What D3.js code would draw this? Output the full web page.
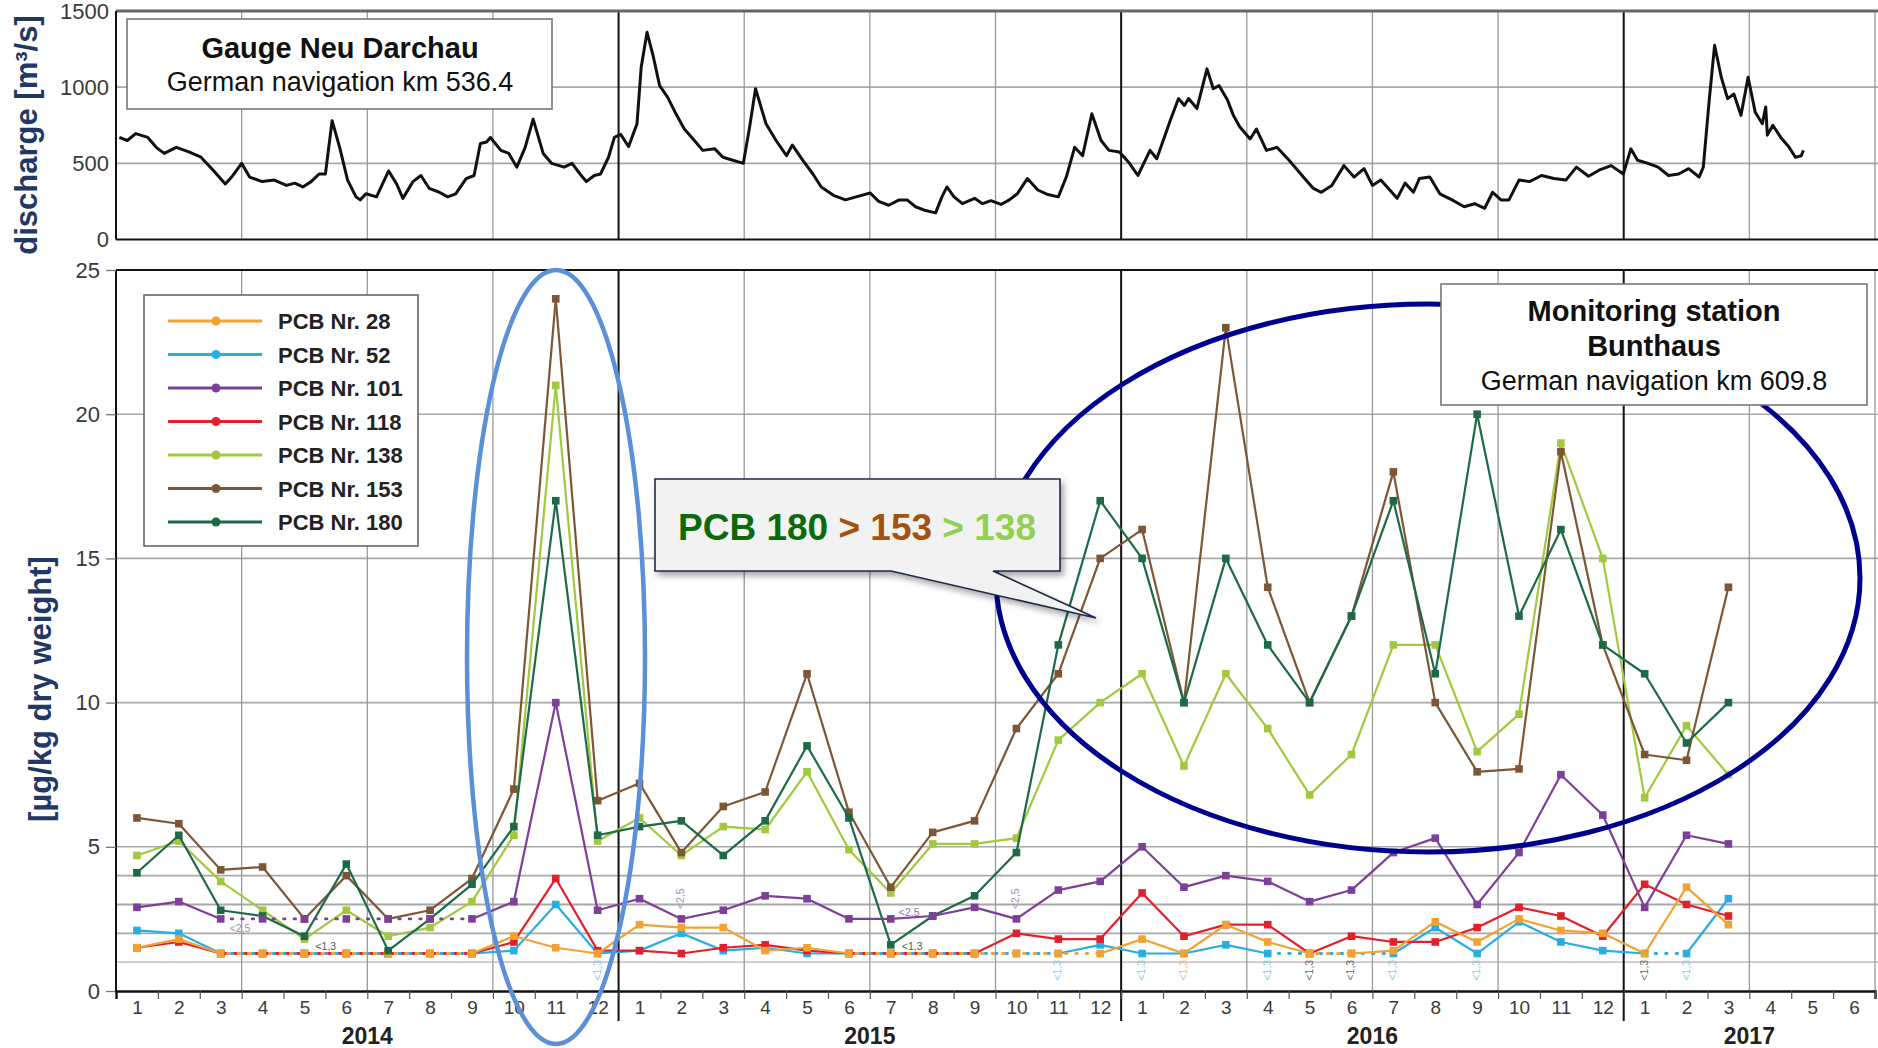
<!DOCTYPE html>
<html>
<head>
<meta charset="utf-8">
<script src="https://cdn.jsdelivr.net/npm/d3@7"></script>
<style>
  body { margin: 0; background: #fff; }
  svg { display: block; }
  text { font-family: "Liberation Sans", Arial, Helvetica, sans-serif; }
</style>
</head>
<body>
<svg id="chart" width="1878" height="1048"></svg>
<script>
// ---------------- data ----------------
// Discharge at gauge Neu Darchau: time in months since 1 Jan 2014, discharge in m³/s
const dischargeT = [0.08,0.27,0.47,0.76,0.96,1.15,1.44,1.74,2.03,2.32,2.61,2.76,3.0,3.19,3.49,3.78,4.07,4.27,4.46,4.66,4.85,5.0,5.16,5.34,5.53,5.73,5.83,5.97,6.22,6.51,6.7,6.85,7.09,7.28,7.48,7.72,7.92,8.11,8.36,8.55,8.7,8.85,8.94,9.19,9.38,9.57,9.77,9.96,10.2,10.4,10.7,10.89,11.08,11.23,11.42,11.57,11.76,11.9,12.05,12.24,12.44,12.54,12.68,12.83,12.98,13.17,13.37,13.57,13.81,14.01,14.3,14.49,14.73,14.98,15.13,15.27,15.52,15.76,16.01,16.15,16.4,16.64,16.84,17.13,17.42,17.67,18.01,18.21,18.45,18.7,18.89,19.09,19.33,19.57,19.72,19.84,20.01,20.21,20.5,20.69,20.89,21.13,21.33,21.52,21.76,22.01,22.25,22.5,22.69,22.89,23.08,23.3,23.52,23.71,23.96,24.2,24.4,24.54,24.69,24.85,25.03,25.17,25.37,25.51,25.61,25.81,26.05,26.2,26.34,26.54,26.68,26.83,27.08,27.23,27.47,27.72,28.01,28.35,28.59,28.78,29.03,29.32,29.56,29.8,30.0,30.2,30.59,30.78,30.98,31.12,31.37,31.61,31.9,32.19,32.44,32.68,32.87,33.07,33.26,33.5,33.75,34.04,34.33,34.62,34.87,35.16,35.41,35.7,35.99,36.17,36.33,36.58,36.82,37.07,37.31,37.55,37.8,37.9,38.04,38.17,38.33,38.48,38.63,38.8,38.97,39.14,39.31,39.39,39.43,39.56,39.75,39.95,40.1,40.24,40.29];
const dischargeQ = [670,650,695,670,605,565,605,575,540,455,365,410,500,410,380,390,355,370,345,380,430,430,780,605,390,280,260,300,280,450,365,270,380,420,335,310,280,300,400,420,630,640,670,585,565,475,605,790,565,500,475,500,430,380,420,430,540,670,690,610,760,1130,1360,1200,1010,935,825,725,650,585,595,540,520,500,740,990,760,650,550,620,520,430,345,290,260,280,305,250,225,260,260,215,190,175,280,345,280,235,270,235,255,230,260,300,400,325,295,280,410,605,550,825,650,585,575,500,420,500,585,530,670,780,925,880,925,860,1120,990,1010,915,815,740,660,725,585,605,520,410,335,310,355,485,410,465,355,390,270,370,310,400,410,300,260,215,235,205,310,260,260,390,380,420,400,390,475,415,455,485,430,595,520,500,475,420,430,465,410,475,910,1275,1065,925,955,815,1065,835,760,870,685,750,670,605,540,550,585];

// Monthly sediment samples at Bunthaus, Jan 2014 – Mar 2017 (µg/kg dry weight)
const pcb28  = [1.5,1.8,1.3,1.3,1.3,1.3,1.3,1.3,1.3,1.9,1.5,1.3, 2.3,2.2,2.2,1.4,1.5,1.3,1.3,1.3,1.3,1.3,1.3,1.3, 1.8,1.3,2.3,1.7,1.3,1.3,1.4,2.4,1.7,2.5,2.1,2.0, 1.3,3.6,2.3];
const pcb52  = [2.1,2.0,1.3,1.3,1.3,1.3,1.3,1.3,1.3,1.4,3.0,1.3, 1.4,2.0,1.4,1.5,1.3,1.3,1.3,1.3,1.3,1.3,1.3,1.6, 1.3,1.3,1.6,1.3,1.3,1.3,1.3,2.2,1.3,2.4,1.7,1.4, 1.3,1.3,3.2];
const pcb101 = [2.9,3.1,2.5,2.5,2.5,2.5,2.5,2.5,2.5,3.1,10.0,2.8, 3.2,2.5,2.8,3.3,3.2,2.5,2.5,2.6,2.9,2.5,3.5,3.8, 5.0,3.6,4.0,3.8,3.1,3.5,4.8,5.3,3.0,4.8,7.5,6.1, 2.9,5.4,5.1];
const pcb118 = [1.5,1.7,1.3,1.3,1.3,1.3,1.3,1.3,1.3,1.7,3.9,1.4, 1.4,1.3,1.5,1.6,1.4,1.3,1.3,1.3,1.3,2.0,1.8,1.8, 3.4,1.9,2.3,2.3,1.3,1.9,1.7,1.7,2.2,2.9,2.6,1.9, 3.7,3.0,2.6];
const pcb138 = [4.7,5.2,3.8,2.8,1.8,2.8,1.9,2.2,3.1,5.4,21.0,5.2, 6.0,4.7,5.7,5.6,7.6,4.9,3.4,5.1,5.1,5.3,8.7,10.0, 11.0,7.8,11.0,9.1,6.8,8.2,12.0,12.0,8.3,9.6,19.0,15.0, 6.7,9.2,7.5];
const pcb153 = [6.0,5.8,4.2,4.3,2.5,4.0,2.5,2.8,3.9,7.0,24.0,6.6, 7.2,4.8,6.4,6.9,11.0,6.2,3.6,5.5,5.9,9.1,11.0,15.0, 16.0,10.0,23.0,14.0,10.0,13.0,18.0,10.0,7.6,7.7,18.7,12.0, 8.2,8.0,14.0];
const pcb180 = [4.1,5.4,2.8,2.6,1.9,4.4,1.4,2.5,3.7,5.7,17.0,5.4, 5.7,5.9,4.7,5.9,8.5,6.0,1.6,2.6,3.3,4.8,12.0,17.0, 15.0,10.0,15.0,12.0,10.0,13.0,17.0,11.0,20.0,13.0,16.0,12.0, 11.0,8.6,10.0];

// Sample indices below the limit of quantification (plotted at the limit)
const loq28  = [2,3,4,5,6,7,8, 17,18,19,20,21,22,23, 25,28,29, 36];
const loq52  = [2,3,4,5,6,7,8,11, 17,18,19,20,21,22, 24,27,28,29,30,32, 36,37];
const loq101 = [2,3,4,5,6,7,8, 13,18,21];
const loq118 = [2,3,4,5,6,7,8, 17,18,19,20];

// Limit notes written next to the samples
const limitNotes = [
  { i: 2,  text: "<2,5", kind: "right-low", color: "#a98bc0" },
  { i: 4,  text: "<1,3", kind: "right-up",  color: "#5a5a5a" },
  { i: 13, text: "<2,5", kind: "above",     color: "#a98bc0" },
  { i: 18, text: "<2,5", kind: "right-mid", color: "#8a74a0" },
  { i: 18, text: "<1,3", kind: "right-up",  color: "#3b6b45" },
  { i: 21, text: "<2,5", kind: "above",     color: "#a98bc0" },
  { i: 11, text: "<1,3", kind: "below",     color: "#7fcbe6" },
  { i: 22, text: "<1,3", kind: "below",     color: "#7fcbe6" },
  { i: 24, text: "<1,3", kind: "below",     color: "#7fcbe6" },
  { i: 25, text: "<1,3", kind: "below",     color: "#f0b878" },
  { i: 27, text: "<1,3", kind: "below",     color: "#7fcbe6" },
  { i: 28, text: "<1,3", kind: "below",     color: "#6a6a6a" },
  { i: 29, text: "<1,3", kind: "below",     color: "#6a6a6a" },
  { i: 30, text: "<1,3", kind: "below",     color: "#7fcbe6" },
  { i: 32, text: "<1,3", kind: "below",     color: "#7fcbe6" },
  { i: 36, text: "<1,3", kind: "below",     color: "#6a6a6a" },
  { i: 37, text: "<1,3", kind: "below",     color: "#7fcbe6" }
];

const seriesNames  = ["PCB Nr. 28","PCB Nr. 52","PCB Nr. 101","PCB Nr. 118","PCB Nr. 138","PCB Nr. 153","PCB Nr. 180"];
const seriesColors = ["#f2a233","#2aaee2","#7e3f98","#e2202c","#a2c83e","#7d5636","#1d6a48"];
const seriesValues = [pcb28, pcb52, pcb101, pcb118, pcb138, pcb153, pcb180];
const seriesLoq    = [loq28, loq52, loq101, loq118, [], [], []];
const drawOrder    = [1, 3, 0, 4, 5, 6, 2];

const years      = ["2014", "2015", "2016", "2017"];
const yearStart  = [0, 12, 24, 36];
const yearEnd    = [12, 24, 36, 42];
const dischargeTicks = [0, 500, 1000, 1500];
const concTicks      = [0, 5, 10, 15, 20, 25];
const concGrid       = [1, 2, 3, 4, 5, 10, 15, 20];

// ---------------- layout ----------------
const svg = d3.select("#chart");
const left = 116, right = 1875;
const x  = d3.scaleLinear().domain([0, 42]).range([left, right]);
const yQ = d3.scaleLinear().domain([0, 1500]).range([239.5, 11]);
const yC = d3.scaleLinear().domain([0, 25]).range([991, 270]);

const monthBounds = d3.range(0, 43);
const quarterLines = monthBounds.filter(m => m % 3 === 0 && m % 12 !== 0 && m > 0);
const yearLines = [12, 24, 36];

const defs = svg.append("defs");
const shadow = defs.append("filter").attr("id", "shadow")
  .attr("x", "-10%").attr("y", "-20%").attr("width", "130%").attr("height", "160%");
shadow.append("feDropShadow").attr("dx", 3).attr("dy", 4).attr("stdDeviation", 3)
  .attr("flood-color", "#000").attr("flood-opacity", 0.35);

// ---------------- discharge panel ----------------
const gTop = svg.append("g");
gTop.selectAll(".hq").data([500, 1000]).join("line")
  .attr("x1", left).attr("x2", 1878).attr("y1", d => yQ(d)).attr("y2", d => yQ(d))
  .attr("stroke", "#a8a8a8").attr("stroke-width", 1.6);
gTop.selectAll(".vq").data(quarterLines).join("line")
  .attr("x1", d => x(d)).attr("x2", d => x(d)).attr("y1", yQ(1500)).attr("y2", yQ(0))
  .attr("stroke", "#9a9a9a").attr("stroke-width", 1.3);
gTop.selectAll(".vy").data(yearLines).join("line")
  .attr("x1", d => x(d)).attr("x2", d => x(d)).attr("y1", yQ(1500)).attr("y2", yQ(0))
  .attr("stroke", "#111").attr("stroke-width", 2);
gTop.append("line").attr("x1", left).attr("x2", 1878).attr("y1", yQ(1500)).attr("y2", yQ(1500))
  .attr("stroke", "#666").attr("stroke-width", 3);
gTop.append("line").attr("x1", left).attr("x2", 1878).attr("y1", yQ(0)).attr("y2", yQ(0))
  .attr("stroke", "#111").attr("stroke-width", 2);
gTop.append("line").attr("x1", left).attr("x2", left).attr("y1", yQ(1500)).attr("y2", yQ(0))
  .attr("stroke", "#111").attr("stroke-width", 2);

const axQ = gTop.append("g").attr("transform", `translate(${left},0)`)
  .call(d3.axisLeft(yQ).tickValues(dischargeTicks).tickSize(0).tickPadding(7).tickFormat(d3.format("d")));
axQ.select(".domain").remove();
axQ.selectAll("text").attr("font-size", 22).attr("fill", "#3a3a3a")
  .attr("font-family", "'Liberation Sans', Arial, sans-serif");

const dischargePts = dischargeT.map((t, i) => [t, dischargeQ[i]]);
gTop.append("path").datum(dischargePts)
  .attr("d", d3.line().x(d => x(d[0])).y(d => yQ(d[1])))
  .attr("fill", "none").attr("stroke", "#111").attr("stroke-width", 3)
  .attr("stroke-linejoin", "round");

// ---------------- concentration panel ----------------
const gBot = svg.append("g");
gBot.selectAll(".hc").data(concGrid).join("line")
  .attr("x1", left).attr("x2", 1878).attr("y1", d => yC(d)).attr("y2", d => yC(d))
  .attr("stroke", d => d === 1 ? "#d2c4c8" : "#a8a8a8").attr("stroke-width", d => d < 5 ? 1.8 : 1.6);
gBot.selectAll(".vc").data(quarterLines).join("line")
  .attr("x1", d => x(d)).attr("x2", d => x(d)).attr("y1", yC(25)).attr("y2", yC(0))
  .attr("stroke", "#9a9a9a").attr("stroke-width", 1.3);
gBot.selectAll(".vcy").data(yearLines).join("line")
  .attr("x1", d => x(d)).attr("x2", d => x(d)).attr("y1", yC(25)).attr("y2", yC(0) + 30)
  .attr("stroke", "#111").attr("stroke-width", 2);
gBot.append("line").attr("x1", left).attr("x2", 1878).attr("y1", yC(25)).attr("y2", yC(25))
  .attr("stroke", "#111").attr("stroke-width", 2);
gBot.append("line").attr("x1", left).attr("x2", left).attr("y1", yC(25)).attr("y2", yC(0))
  .attr("stroke", "#111").attr("stroke-width", 2);

const axC = gBot.append("g").attr("transform", `translate(${left},0)`)
  .call(d3.axisLeft(yC).tickValues(concTicks).tickSize(10).tickPadding(6));
axC.select(".domain").remove();
axC.selectAll("line").attr("stroke", "#777").attr("stroke-width", 1.3);
axC.selectAll("text").attr("font-size", 22).attr("fill", "#3a3a3a")
  .attr("font-family", "'Liberation Sans', Arial, sans-serif");

// month boundary ticks and month numbers
const axM = gBot.append("g").attr("transform", `translate(0,${yC(0)})`)
  .call(d3.axisBottom(x).tickValues(monthBounds.slice(1)).tickSize(8).tickFormat(""));
axM.select(".domain").attr("stroke", "#111").attr("stroke-width", 2.4);
axM.selectAll("line").attr("stroke", "#555").attr("stroke-width", 1.2);

const axL = gBot.append("g").attr("transform", `translate(0,${yC(0)})`)
  .call(d3.axisBottom(x).tickValues(d3.range(42).map(m => m + 0.5)).tickSize(0).tickPadding(10)
    .tickFormat(d => String(Math.floor(d) % 12 + 1)));
axL.select(".domain").remove();
axL.selectAll("text").attr("font-size", 19).attr("fill", "#3a3a3a")
  .attr("font-family", "'Liberation Sans', Arial, sans-serif");

gBot.selectAll(".yr").data(years).join("text")
  .attr("x", (d, i) => x((yearStart[i] + yearEnd[i]) / 2)).attr("y", 1044)
  .attr("text-anchor", "middle").attr("font-size", 23).attr("font-weight", "bold")
  .attr("fill", "#222").text(d => d);

// series: segments between two below-limit samples are dotted,
// dot phases are staggered so overlapping dotted runs stay visible
const monthX = i => x(i + 0.5);
drawOrder.forEach((s, k) => {
  const vals = seriesValues[s], loq = new Set(seriesLoq[s]), col = seriesColors[s];
  const g = gBot.append("g");
  const segs = d3.range(vals.length - 1).map(i => ({ i, dotted: loq.has(i) && loq.has(i + 1) }));
  g.selectAll("path").data(segs).join("path")
    .attr("d", d => d3.line()([[monthX(d.i), yC(vals[d.i])], [monthX(d.i + 1), yC(vals[d.i + 1])]]))
    .attr("fill", "none").attr("stroke", col)
    .attr("stroke-width", d => d.dotted ? 2.8 : 2.2)
    .attr("stroke-dasharray", d => d.dotted ? "1.5,9" : null)
    .attr("stroke-dashoffset", d => d.dotted ? -(k * 3.5) : null)
    .attr("stroke-linecap", d => d.dotted ? "round" : "butt");
  g.selectAll("rect").data(vals).join("rect")
    .attr("x", (d, i) => monthX(i) - 3.8).attr("y", d => yC(d) - 3.8)
    .attr("width", 7.6).attr("height", 7.6).attr("fill", col);
});

// limit notes
const notes = gBot.append("g").attr("font-size", 10.5);
limitNotes.forEach(n => {
  const cx = monthX(n.i);
  if (n.kind === "below") {
    notes.append("text").attr("transform", `translate(${cx + 3},${yC(0.72)}) rotate(-90)`)
      .attr("text-anchor", "middle").attr("fill", n.color).text(n.text);
  } else if (n.kind === "above") {
    notes.append("text").attr("transform", `translate(${cx + 3},${yC(3.2)}) rotate(-90)`)
      .attr("text-anchor", "middle").attr("fill", n.color).text(n.text);
  } else if (n.kind === "right-low") {
    notes.append("text").attr("x", cx + 9).attr("y", yC(2.5) + 13).attr("fill", n.color).text(n.text);
  } else if (n.kind === "right-mid") {
    notes.append("text").attr("x", cx + 8).attr("y", yC(2.5) - 3).attr("fill", n.color).text(n.text);
  } else {
    notes.append("text").attr("x", cx + 11).attr("y", yC(1.3) - 4).attr("fill", n.color).text(n.text);
  }
});

// ---------------- legend ----------------
const lg = svg.append("g");
lg.append("rect").attr("x", 144).attr("y", 295).attr("width", 274).attr("height", 251)
  .attr("fill", "#fff").attr("stroke", "#666").attr("stroke-width", 1.6);
seriesNames.forEach((name, i) => {
  const yy = 321 + i * 33.5;
  lg.append("line").attr("x1", 168).attr("x2", 262).attr("y1", yy).attr("y2", yy)
    .attr("stroke", seriesColors[i]).attr("stroke-width", 3);
  lg.append("circle").attr("cx", 216).attr("cy", yy).attr("r", 4.5).attr("fill", seriesColors[i]);
  lg.append("text").attr("x", 278).attr("y", yy + 8).attr("font-size", 22)
    .attr("font-weight", "bold").attr("fill", "#222").text(name);
});

// ---------------- annotations ----------------
const ann = svg.append("g");
ann.append("ellipse").attr("cx", 556).attr("cy", 657).attr("rx", 89).attr("ry", 387)
  .attr("fill", "none").attr("stroke", "#5b8fd8").attr("stroke-width", 4.5);
ann.append("ellipse").attr("cx", 1428).attr("cy", 578).attr("rx", 432).attr("ry", 274)
  .attr("fill", "none").attr("stroke", "#00008f").attr("stroke-width", 5);

// callout
ann.append("path")
  .attr("d", "M655,479 H1060 V571 H993 L1096,618 L891,571 H655 Z")
  .attr("fill", "#f2f2f2").attr("stroke", "#1f2a44").attr("stroke-width", 1.6)
  .attr("filter", "url(#shadow)");
const ct = ann.append("text").attr("x", 857).attr("y", 540).attr("text-anchor", "middle")
  .attr("font-size", 37).attr("font-weight", "bold");
ct.append("tspan").attr("fill", "#0b6a0b").text("PCB 180");
ct.append("tspan").attr("fill", "#a3520f").text(" > 153");
ct.append("tspan").attr("fill", "#92d050").text(" > 138");

// gauge box
ann.append("rect").attr("x", 127).attr("y", 19).attr("width", 425).attr("height", 90)
  .attr("fill", "#fff").attr("stroke", "#777").attr("stroke-width", 1.6);
ann.append("text").attr("x", 340).attr("y", 58).attr("text-anchor", "middle")
  .attr("font-size", 29).attr("font-weight", "bold").attr("fill", "#111").text("Gauge Neu Darchau");
ann.append("text").attr("x", 340).attr("y", 91).attr("text-anchor", "middle")
  .attr("font-size", 27).attr("fill", "#111").text("German navigation km 536.4");

// station box
ann.append("rect").attr("x", 1441).attr("y", 284).attr("width", 426).attr("height", 121)
  .attr("fill", "#fff").attr("stroke", "#777").attr("stroke-width", 1.6);
ann.append("text").attr("x", 1654).attr("y", 321).attr("text-anchor", "middle")
  .attr("font-size", 29).attr("font-weight", "bold").attr("fill", "#111").text("Monitoring station");
ann.append("text").attr("x", 1654).attr("y", 356).attr("text-anchor", "middle")
  .attr("font-size", 29).attr("font-weight", "bold").attr("fill", "#111").text("Bunthaus");
ann.append("text").attr("x", 1654).attr("y", 390).attr("text-anchor", "middle")
  .attr("font-size", 27).attr("fill", "#111").text("German navigation km 609.8");

// axis titles
svg.append("text").attr("transform", "translate(26,135) rotate(-90)")
  .attr("text-anchor", "middle").attr("dominant-baseline", "central")
  .attr("font-size", 31).attr("font-weight", "bold").attr("fill", "#1f3864").text("discharge [m³/s]");
svg.append("text").attr("transform", "translate(40,689) rotate(-90)")
  .attr("text-anchor", "middle").attr("dominant-baseline", "central")
  .attr("font-size", 31).attr("font-weight", "bold").attr("fill", "#1f3864").text("[µg/kg dry weight]");
</script>
</body>
</html>
